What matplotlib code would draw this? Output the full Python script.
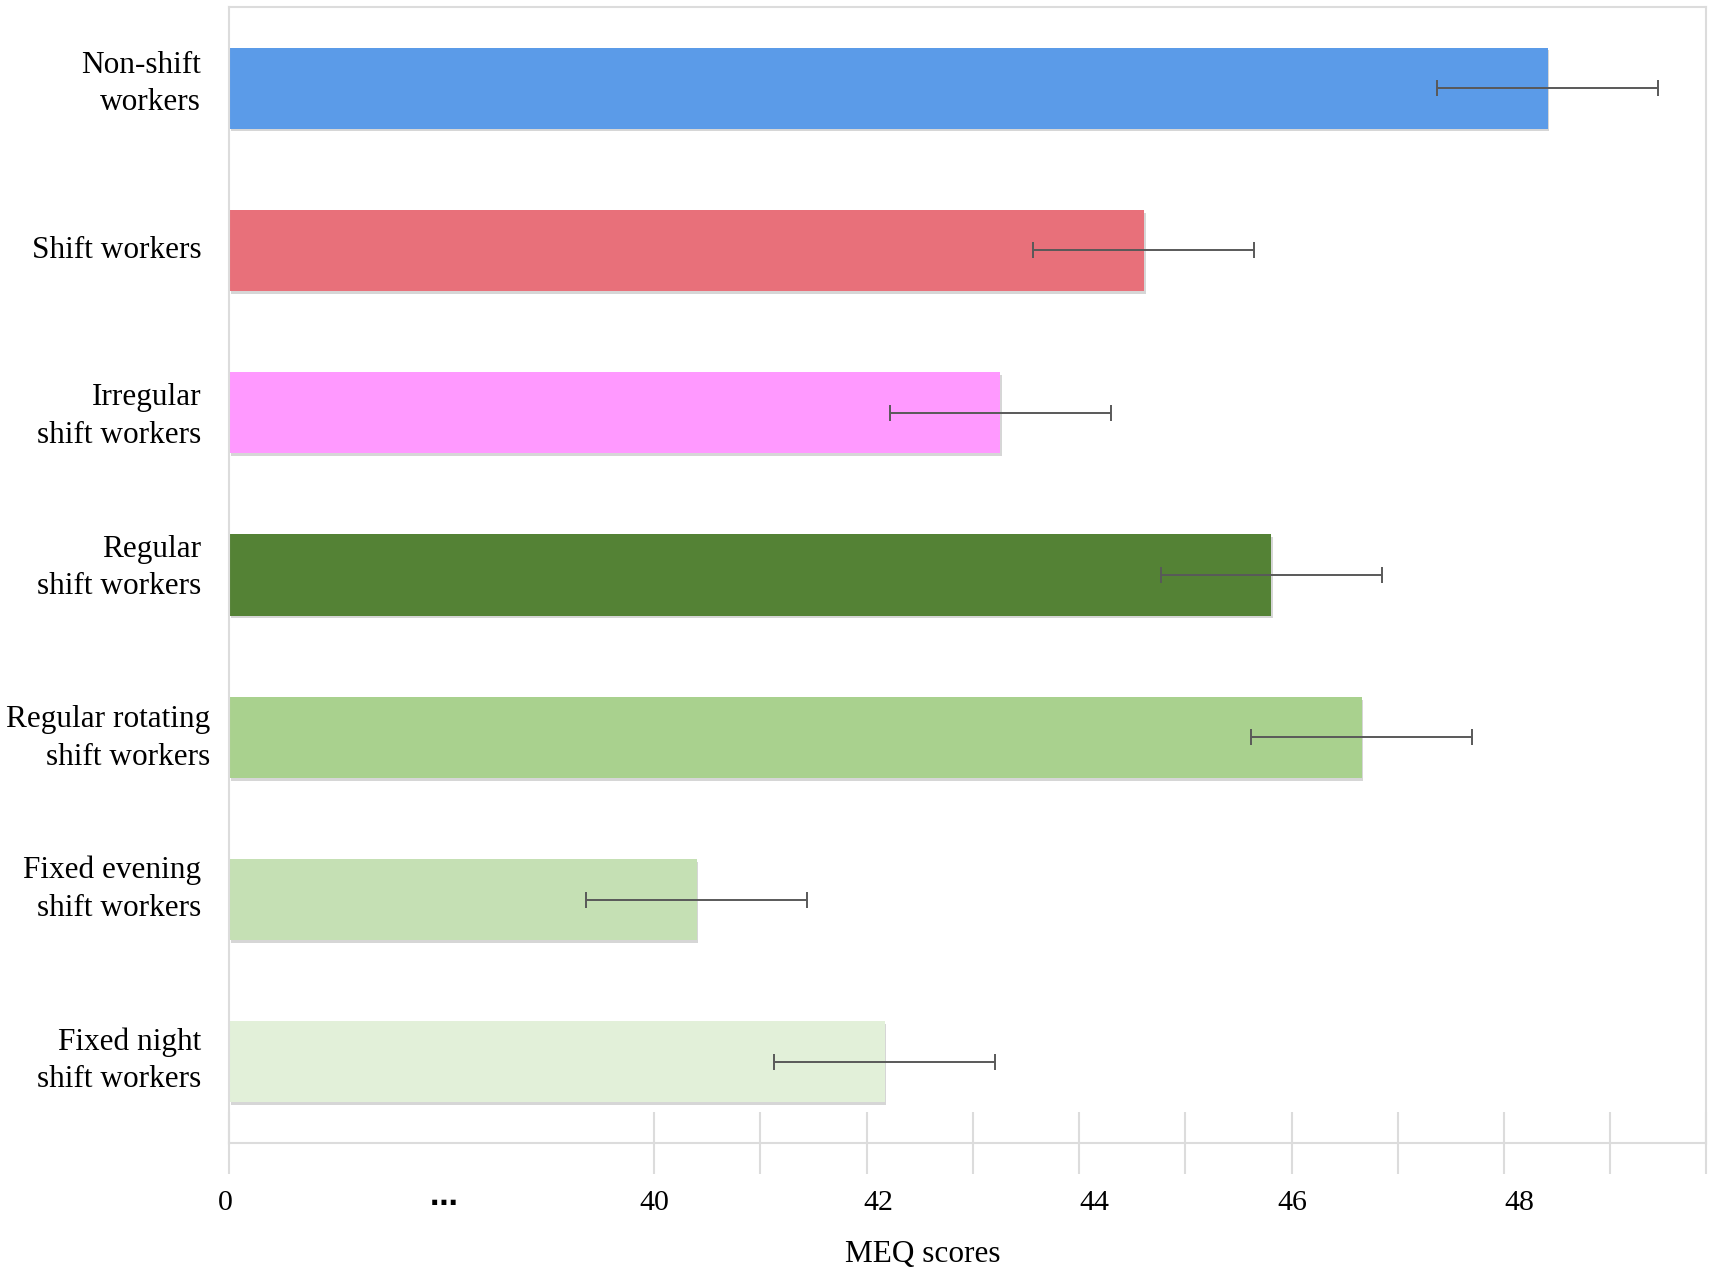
import numpy as np
import matplotlib
matplotlib.use("Agg")
from matplotlib import pyplot as plt
from matplotlib import patheffects as pe
from matplotlib.transforms import ScaledTranslation

# data
groups = ["Non-shift\nworkers", "Shift workers", "Irregular\nshift workers",
          "Regular\nshift workers", "Regular rotating\nshift workers",
          "Fixed evening\nshift workers", "Fixed night\nshift workers"]
meq = [48.41, 44.61, 43.26, 45.81, 46.66, 40.40, 42.17]
err = [1.04, 1.04, 1.04, 1.04, 1.04, 1.04, 1.04]
colors = ["#5B9BE8", "#E8707A", "#FF99FF", "#548235", "#A9D18E", "#C5E0B4", "#E2F0D9"]

tick_vals = [0, 40, 42, 44, 46, 48]
grid_vals = [0, 40, 41, 42, 43, 44, 45, 46, 47, 48, 49]
x_max = 49.9

# the labels in the original are placed by hand, nudge them (pixels)
ylab_dx = [0, 0, 0, 0, 9, 0, 0]
ylab_dy = [12, 3, 4, 15, 7, 18, 9]
xlab_dx = [-4, 0, 0, 12, 15, 1, 15]

# broken axis: 0 at the left edge, 36..50 linear after the break
def pos(v):
    v = np.asarray(v, dtype=float)
    return np.where(v >= 36, v - 36, v * 4.0 / 40)

plt.rcParams['font.family'] = ['Liberation Serif', 'DejaVu Serif']

fig = plt.figure(figsize=(17.13, 12.73), dpi=100)
ax = fig.add_axes([0.1337, 0.1021, 0.8622, 0.8924])

y = np.arange(len(groups))
bars = ax.barh(y, pos(meq), height=0.5, color=colors, zorder=2)
for b in bars:
    b.set_path_effects([pe.SimplePatchShadow(offset=(1.2, -2), shadow_rgbFace='#8c8c8c', alpha=0.35),
                        pe.Normal()])

lo = pos(np.array(meq) - np.array(err))
hi = pos(np.array(meq) + np.array(err))
ax.errorbar(pos(meq), y, xerr=[pos(meq) - lo, hi - pos(meq)], fmt='none',
            ecolor='#595959', elinewidth=1.4, capsize=5.5, capthick=1.4, zorder=3)

ax.set_ylim(len(groups) - 0.5, -0.5)
ax.set_xlim(0, float(pos(x_max)))

ax.set_yticks(y)
ax.set_yticklabels(groups, fontsize=22.5, linespacing=1.4, multialignment='right')
ax.tick_params(axis='y', length=0, pad=20)
for lab, dx, dy in zip(ax.get_yticklabels(), ylab_dx, ylab_dy):
    lab.set_transform(lab.get_transform() + ScaledTranslation(dx / 100, dy / 100, fig.dpi_scale_trans))

# long light-gray ticks across the bottom line
ax.xaxis.remove_overlapping_locs = False
ax.set_xticks(list(pos(grid_vals)) + [float(pos(x_max))])
ax.set_xticklabels([])
ax.tick_params(axis='x', which='major', direction='inout', length=44, width=1.5, color='#DCDCDC')

lab_pos = list(pos(tick_vals))
lab_txt = [str(v) for v in tick_vals]
lab_pos.insert(1, 2.02)
lab_txt.insert(1, '⋯')
ax.set_xticks(lab_pos, minor=True)
ax.set_xticklabels(lab_txt, minor=True, fontsize=21.5)
ax.tick_params(axis='x', which='minor', length=0, pad=34)
for lab, dx in zip(ax.get_xticklabels(minor=True), xlab_dx):
    lab.set_transform(lab.get_transform() + ScaledTranslation(dx / 100, 0, fig.dpi_scale_trans))
dots = ax.get_xticklabels(minor=True)[1]
dots.set_fontfamily(['DejaVu Sans'])
dots.set_fontweight('bold')
dots.set_fontsize(20)

for s in ax.spines.values():
    s.set_color('#DCDCDC')
    s.set_linewidth(1.5)

ax.set_xlabel('MEQ scores', fontsize=22.5, x=0.47, labelpad=16)

plt.savefig("out.png")
